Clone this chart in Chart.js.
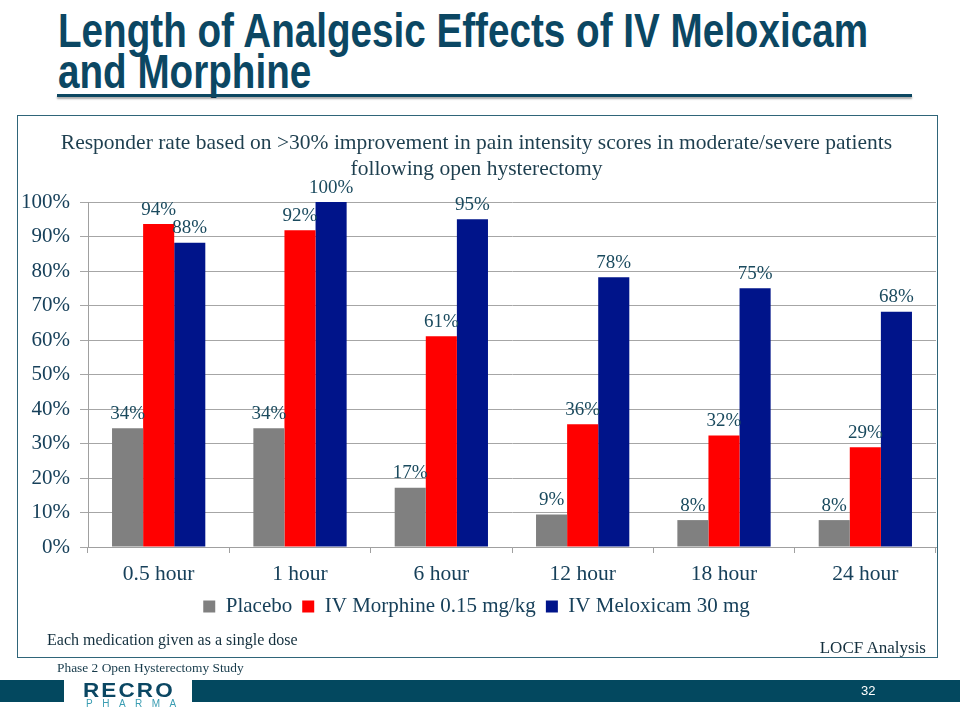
<!DOCTYPE html>
<html>
<head>
<meta charset="utf-8">
<script src="https://cdn.jsdelivr.net/npm/chart.js@4.4.1/dist/chart.umd.min.js"></script>
<style>
  html, body { margin:0; padding:0; background:#ffffff; }
  body { width:960px; height:720px; position:relative; overflow:hidden; font-family:"Liberation Serif", serif; }
  #title { position:absolute; left:58px; top:10px; font-family:"Liberation Sans", Arial, sans-serif; font-weight:bold; font-size:48px; line-height:41px; color:#0b4763; white-space:nowrap; transform-origin:0 0; }
  #rule { position:absolute; left:57px; top:94px; width:855px; height:3px; background:#0c4761; box-shadow:0 2px 2px rgba(0,0,0,0.35); }
  #box { position:absolute; left:17px; top:115px; width:919px; height:541px; border:1px solid #2f6579; }
  #chartWrap { position:absolute; left:17px; top:115px; width:920px; height:542px; }
  .note { position:absolute; color:#132f3d; white-space:nowrap; }
  #bar1 { position:absolute; left:0; top:680px; width:64px; height:22px; background:#03485f; }
  #bar2 { position:absolute; left:192px; top:680px; width:768px; height:22px; background:#03485f; }
  #recro { position:absolute; left:83px; top:678px; font-family:"Liberation Sans", Arial, sans-serif; font-weight:900; font-size:21px; letter-spacing:2px; color:#0b4763; transform:scaleX(1.07); transform-origin:0 0; }
  #pharma { position:absolute; left:86px; top:698px; font-family:"Liberation Sans", Arial, sans-serif; font-size:10px; letter-spacing:9.5px; color:#3a9db2; }
  #pg { position:absolute; left:861px; top:683px; font-family:"Liberation Sans", Arial, sans-serif; font-size:13px; color:#ffffff; }
</style>
</head>
<body>
<div id="title"><span id="t1">Length of Analgesic Effects of IV Meloxicam</span><br><span>and Morphine</span></div>
<div id="rule"></div>
<div id="box"></div>
<div id="chartWrap"><canvas id="c" width="920" height="542"></canvas></div>
<div class="note" style="left:47px; top:631px; font-size:16px;">Each medication given as a single dose</div>
<div class="note" style="right:34px; top:638px; font-size:17px;">LOCF Analysis</div>
<div class="note" style="left:57px; top:660px; font-size:13.4px; color:#163a4a;">Phase 2 Open Hysterectomy Study</div>
<div id="bar1"></div>
<div id="bar2"></div>
<div id="recro">RECRO</div>
<div id="pharma">PHARMA</div>
<div id="pg">32</div>
<script>
// ---- data ----
const categories = ["0.5 hour", "1 hour", "6 hour", "12 hour", "18 hour", "24 hour"];
const placebo    = [34.4, 34.4, 17.2, 9.4, 7.8, 7.8];
const morphine   = [93.6, 91.8, 61.1, 35.6, 32.3, 28.9];
const meloxicam  = [88.2, 100, 95.0, 78.2, 75.0, 68.2];
const seriesNames = ["Placebo", "IV Morphine 0.15 mg/kg", "IV Meloxicam 30 mg"];
const chartTitle = ["Responder rate based on >30% improvement in pain intensity scores in moderate/severe patients", "following open hysterectomy"];

// fit title width
(function(){
  const t1 = document.getElementById('t1');
  const w = t1.getBoundingClientRect().width;
  const k = 810 / w;
  document.getElementById('title').style.transform = 'scaleX(' + k + ')';
})();

const textColor = '#17405a';
const serif = '"Liberation Serif", "Times New Roman", serif';

const valueLabels = {
  id: 'valueLabels',
  afterDatasetsDraw(chart) {
    const ctx = chart.ctx;
    ctx.save();
    ctx.font = '19px ' + serif;
    ctx.fillStyle = '#1a4a5e';
    ctx.textAlign = 'center';
    ctx.textBaseline = 'bottom';
    chart.data.datasets.forEach((ds, i) => {
      const meta = chart.getDatasetMeta(i);
      meta.data.forEach((el, j) => {
        ctx.fillText(Math.round(ds.data[j]) + '%', el.x, el.y - 5);
      });
    });
    ctx.restore();
  }
};

new Chart(document.getElementById('c'), {
  type: 'bar',
  data: {
    labels: categories,
    datasets: [
      { label: seriesNames[0], data: placebo,   backgroundColor: '#808080' },
      { label: seriesNames[1], data: morphine,  backgroundColor: '#ff0000' },
      { label: seriesNames[2], data: meloxicam, backgroundColor: '#00148a' }
    ]
  },
  options: {
    responsive: false,
    animation: false,
    events: [],
    datasets: { bar: { categoryPercentage: 0.66, barPercentage: 1.0, borderWidth: 0 } },
    layout: { padding: { left: 0, right: 1, top: 0, bottom: 30 } },
    plugins: {
      tooltip: { enabled: false },
      title: {
        display: true,
        text: chartTitle,
        color: '#1e3f4f',
        font: { family: serif, size: 21.5, weight: 'normal', lineHeight: 1.21 },
        padding: { top: 15, bottom: 20 }
      },
      legend: {
        display: true,
        position: 'bottom',
        labels: {
          color: textColor,
          font: { family: serif, size: 21 },
          boxWidth: 12, boxHeight: 12,
          padding: 10
        }
      }
    },
    scales: {
      x: {
        grid: { drawOnChartArea: false, drawTicks: true, tickLength: 6, color: '#a0a0a0' },
        border: { color: '#a0a0a0' },
        ticks: { color: textColor, font: { family: serif, size: 21.5 }, padding: 8 },
        afterFit(s) { s.height = 39; }
      },
      y: {
        min: 0, max: 100,
        grid: { color: '#a6a6a6', tickLength: 8 },
        border: { color: '#a0a0a0' },
        ticks: { stepSize: 10, color: textColor, font: { family: serif, size: 21 }, padding: 10,
                 callback: v => v + '%' },
        afterFit(s) { s.width = 71; }
      }
    }
  },
  plugins: [valueLabels]
});
</script>
</body>
</html>
